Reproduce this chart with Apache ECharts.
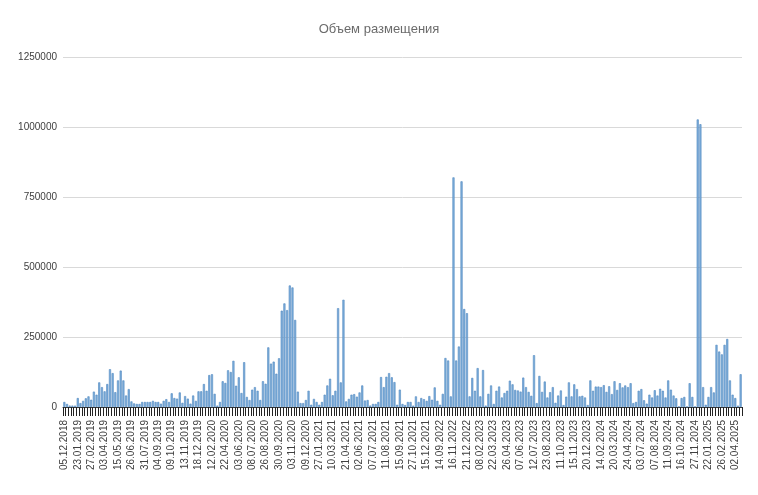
<!DOCTYPE html>
<html>
<head>
<meta charset="utf-8">
<script src="https://cdn.jsdelivr.net/npm/echarts@6/dist/echarts.min.js"></script>
<style>html,body{margin:0;padding:0;background:#fff;}#c{width:758px;height:495px;}</style>
</head>
<body>
<div id="c"></div>
<script>
var chartTitle = 'Объем размещения';
var tickLabels = ['05.12.2018','23.01.2019','27.02.2019','03.04.2019','15.05.2019','26.06.2019','31.07.2019','04.09.2019','09.10.2019','13.11.2019',
'18.12.2019','12.02.2020','22.04.2020','03.06.2020','08.07.2020','26.08.2020','30.09.2020','03.11.2020','09.12.2020','27.01.2021',
'10.03.2021','21.04.2021','02.06.2021','07.07.2021','11.08.2021','15.09.2021','27.10.2021','15.12.2021','14.09.2022','16.11.2022',
'21.12.2022','08.02.2023','22.03.2023','26.04.2023','07.06.2023','12.07.2023','23.08.2023','11.10.2023','15.11.2023','20.12.2023',
'14.02.2024','20.03.2024','24.04.2024','03.07.2024','07.08.2024','11.09.2024','16.10.2024','27.11.2024','22.01.2025','26.02.2025','02.04.2025'];
var volumes = [
18000,11000,5000,5000,5000,32000,14000,22000,31000,38000,
26000,55000,44000,88000,71000,56000,82000,135000,121000,53000,
95000,130000,95000,41000,64000,20000,13000,11000,11000,18000,
18000,18000,18000,22000,18000,18000,12000,22000,28000,18000,
49000,32000,30000,52000,15000,39000,30000,12000,41000,22000,
56000,56000,82000,58000,114000,117000,47000,5000,18000,92000,
86000,131000,125000,165000,76000,106000,50000,160000,36000,25000,
62000,71000,58000,25000,92000,83000,213000,155000,162000,119000,
174000,344000,370000,346000,434000,427000,311000,55000,14000,14000,
25000,58000,8000,29000,18000,8000,18000,44000,77000,101000,
42000,58000,353000,88000,383000,20000,29000,44000,46000,37000,
52000,77000,23000,25000,5000,11000,11000,18000,107000,71000,
108000,121000,106000,89000,8000,62000,11000,7000,18000,18000,
5000,38000,18000,32000,28000,22000,39000,26000,70000,22000,
8000,47000,175000,166000,38000,820000,166000,216000,806000,350000,
335000,38000,104000,58000,139000,38000,132000,5000,47000,77000,
11000,58000,73000,34000,50000,58000,94000,81000,61000,59000,
55000,105000,71000,54000,40000,185000,14000,111000,54000,91000,
34000,53000,71000,15000,41000,59000,7000,37000,88000,38000,
81000,64000,38000,40000,34000,7000,95000,58000,73000,73000,
71000,78000,54000,74000,46000,92000,61000,85000,70000,77000,
71000,85000,14000,18000,58000,64000,24000,12000,44000,34000,
60000,41000,65000,58000,34000,95000,62000,41000,31000,2000,
32000,36000,2000,85000,36000,2000,1027000,1010000,71000,8000,
36000,71000,52000,222000,198000,188000,222000,243000,95000,44000,
32000,5000,117000];
var yMin = 0, yMax = 1250000, yStep = 250000;

var categories = volumes.map(function (v, i) {
  return i % 5 === 0 ? tickLabels[i / 5] : tickLabels[Math.floor(i / 5)] + '#' + (i % 5);
});

var chart = echarts.init(document.getElementById('c'));
chart.setOption({
  animation: false,
  textStyle: { fontFamily: 'Liberation Sans, Arial, sans-serif' },
  title: {
    text: chartTitle, left: 'center', top: 18,
    textStyle: { fontSize: 13, fontWeight: 'normal', color: '#6b6b6b', fontFamily: 'Liberation Sans, Arial, sans-serif' }
  },
  grid: { left: 63, right: 16, top: 57, bottom: 88 },
  xAxis: {
    type: 'category',
    data: categories,
    boundaryGap: true,
    axisLine: { show: true, lineStyle: { color: '#333', width: 1 } },
    axisTick: { show: true, interval: 0, length: 9, lineStyle: { color: '#222', width: 1 } },
    axisLabel: {
      show: true, interval: 4, rotate: 90, fontSize: 10, color: '#404040', margin: 13,
      formatter: function (v) { return v.indexOf('#') >= 0 ? '' : v; }
    }
  },
  yAxis: {
    type: 'value', min: yMin, max: yMax, interval: yStep,
    axisLine: { show: false }, axisTick: { show: false },
    axisLabel: { fontSize: 10, color: '#404040', margin: 6, formatter: function (v) { return String(v); } },
    splitLine: { lineStyle: { color: '#d9d9d9', width: 1 } }
  },
  series: [{
    type: 'bar',
    data: volumes,
    barCategoryGap: '22%',
    itemStyle: { color: '#7fb0dc', borderColor: '#4f86bf', borderWidth: 0.6 }
  }]
});
</script>
</body>
</html>
